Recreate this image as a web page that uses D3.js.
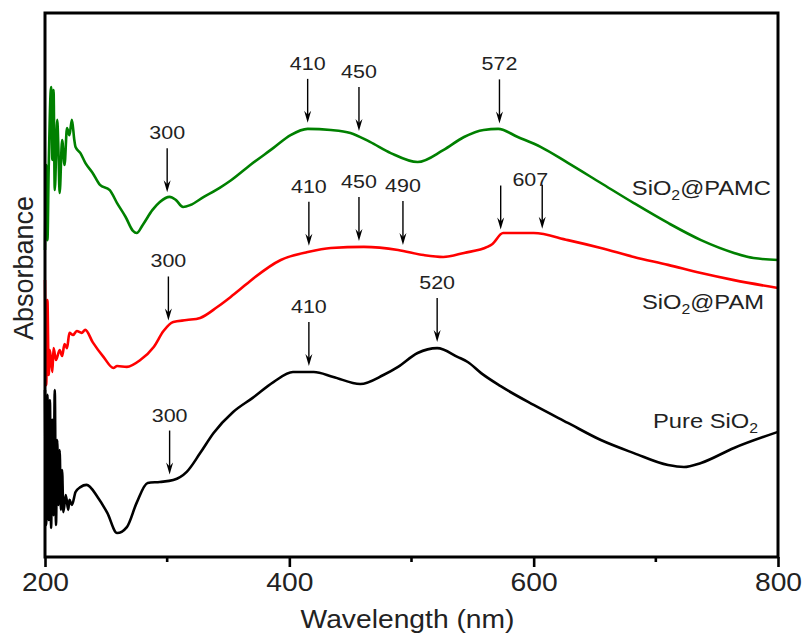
<!DOCTYPE html>
<html>
<head>
<meta charset="utf-8">
<script src="https://cdn.jsdelivr.net/npm/d3@7"></script>
<style>
  body { margin: 0; background: #fff; }
  text { font-family: Arial, "Liberation Sans", sans-serif; }
</style>
</head>
<body>
<div id="chart"></div>
<script>
(function() {

    // Chart size
    var width = 802;
    var height = 639;
    var margin = { top: 13, right: 24, bottom: 82, left: 45 };

    // Pure SiO2 (black) : wavelength (nm), absorbance (a.u.)
    var pureWl = [200, 201, 202, 203, 204, 205, 206, 207, 208, 209, 210, 211, 212, 213, 214, 215,
        217, 219, 220, 222, 225, 229, 234, 243, 251, 259, 267, 275, 284, 294, 305, 316, 327, 338,
        354, 370, 387, 403, 420, 436, 458, 477, 489, 505, 521, 538, 546, 557, 573, 600, 628,
        655, 682, 710, 723, 737, 764, 800];
    var pureAbs = [0.614, 0.118, 0.596, 0.136, 0.577, 0.107, 0.504, 0.154, 0.614, 0.118, 0.430,
        0.191, 0.393, 0.173, 0.320, 0.165, 0.228, 0.173, 0.210, 0.191, 0.239, 0.257, 0.265, 0.221,
        0.162, 0.088, 0.110, 0.199, 0.272, 0.276, 0.283, 0.313, 0.382, 0.456, 0.533, 0.585, 0.643,
        0.680, 0.680, 0.662, 0.636, 0.669, 0.699, 0.750, 0.768, 0.735, 0.717, 0.676, 0.628,
        0.559, 0.493, 0.430, 0.382, 0.338, 0.331, 0.346, 0.401, 0.460];

    // SiO2@PAM (red)
    var pamWl = [200, 201, 202, 203, 204, 206, 207, 209, 212, 214, 216, 218, 220, 223, 226, 230,
        233, 239, 248, 256, 259, 267, 278, 289, 297, 305, 316, 327, 341, 352, 360, 368, 393, 415,
        434, 461, 489, 510, 526, 543, 562, 566, 575, 600, 628, 655, 682, 710, 737, 764, 800];
    var pamAbs = [1.018, 0.632, 0.945, 0.669, 0.761, 0.680, 0.768, 0.724, 0.761, 0.739, 0.783,
        0.768, 0.824, 0.816, 0.831, 0.824, 0.835, 0.790, 0.735, 0.695, 0.702, 0.699, 0.724, 0.772,
        0.831, 0.864, 0.871, 0.879, 0.919, 0.956, 0.985, 1.015, 1.092, 1.121, 1.136, 1.140, 1.129,
        1.110, 1.103, 1.118, 1.140, 1.150, 1.191, 1.191, 1.165, 1.136, 1.103, 1.074, 1.044, 1.018,
        0.989];

    // SiO2@PAMC (green)
    var pamcWl = [200, 201, 202, 203, 205, 206, 207, 208, 210, 211, 212, 214, 216, 218, 220, 222,
        224, 225, 229, 233, 239, 245, 253, 259, 266, 272, 275, 280, 288, 294, 302, 307, 313, 319,
        330, 343, 352, 368, 387, 401, 415, 434, 450, 466, 483, 505, 526, 543, 559, 571, 587, 606,
        628, 655, 682, 710, 737, 764, 780, 800];
    var pamcAbs = [1.129, 1.441, 1.165, 1.423, 1.728, 1.460, 1.717, 1.349, 1.607, 1.496, 1.338,
        1.533, 1.441, 1.577, 1.551, 1.607, 1.533, 1.507, 1.485, 1.449, 1.412, 1.368, 1.349, 1.301,
        1.250, 1.199, 1.191, 1.221, 1.276, 1.305, 1.324, 1.313, 1.287, 1.294, 1.324, 1.357, 1.384,
        1.441, 1.504, 1.551, 1.574, 1.570, 1.559, 1.526, 1.485, 1.452, 1.496, 1.544, 1.570, 1.574,
        1.544, 1.507, 1.449, 1.375, 1.301, 1.228, 1.165, 1.118, 1.099, 1.092];

    var seriesNames = ["SiO2@PAMC", "SiO2@PAM", "Pure SiO2"];
    var seriesColors = ["#008000", "#ff0000", "#000000"];

    // Peak markers: where each arrow sits (nm) and its label
    var pamcArrowWl = [300, 415, 457, 572];
    var pamcArrowText = ["300", "410", "450", "572"];
    var pamArrowWl = [301, 416, 457, 493, 573, 607];
    var pamArrowText = ["300", "410", "450", "490", "", "607"];
    var pureArrowWl = [302, 416, 521];
    var pureArrowText = ["300", "410", "520"];

    var xTicks = [200, 400, 600, 800];
    var xMinorTicks = [300, 500, 700];

    var series = [
        { name: seriesNames[0], color: seriesColors[0], wl: pamcWl, abs: pamcAbs, arrows: pamcArrowWl, texts: pamcArrowText },
        { name: seriesNames[1], color: seriesColors[1], wl: pamWl, abs: pamAbs, arrows: pamArrowWl, texts: pamArrowText },
        { name: seriesNames[2], color: seriesColors[2], wl: pureWl, abs: pureAbs, arrows: pureArrowWl, texts: pureArrowText }
    ];

    var svg = d3.select("#chart")
        .append("svg")
        .attr("width", width)
        .attr("height", height);

    var x = d3.scaleLinear()
        .domain([200, 800])
        .range([margin.left, width - margin.right]);

    var y = d3.scaleLinear()
        .domain([0, 2])
        .range([height - margin.bottom, margin.top]);

    var line = d3.line()
        .curve(d3.curveMonotoneX)
        .x(function(d) { return x(d[0]); })
        .y(function(d) { return y(d[1]); });

    // text is slightly wide in the original figure
    var sx = 1.13;
    function stretchedText(g, px, py, anchor) {
        return g.append("text")
            .attr("transform", "translate(" + px + "," + py + ") scale(" + sx + ",1)")
            .attr("text-anchor", anchor || "middle");
    }

    // curves
    series.forEach(function(s) {
        var pts = s.wl.map(function(w, i) { return [w, s.abs[i]]; });
        svg.append("path")
            .datum(pts)
            .attr("fill", "none")
            .attr("stroke", s.color)
            .attr("stroke-width", 2.6)
            .attr("stroke-linejoin", "round")
            .attr("d", line);
    });

    // arrows
    var arrowLen = 44;
    series.forEach(function(s) {
        var g = svg.append("g");
        s.arrows.forEach(function(w, i) {
            var cy = y(interp(s.wl, s.abs, w));
            var tip = cy - 6;
            var top = tip - arrowLen;
            var ax = x(w);
            g.append("line")
                .attr("x1", ax).attr("x2", ax)
                .attr("y1", top).attr("y2", tip - 6)
                .attr("stroke", "#000")
                .attr("stroke-width", 1.4);
            g.append("path")
                .attr("d", "M" + (ax - 3.5) + "," + (tip - 12) + " L" + ax + "," + (tip - 8) +
                    " L" + (ax + 3.5) + "," + (tip - 12) + " L" + ax + "," + tip + "Z")
                .attr("fill", "#000");
            if (s.texts[i]) {
                var t;
                if (s.texts[i] === "607") {
                    t = stretchedText(g, ax + 6, top + 1, "end");
                } else {
                    t = stretchedText(g, ax, top - 9, "middle");
                }
                t.attr("font-size", 19).attr("fill", "#222").text(s.texts[i]);
            }
        });
    });

    function interp(xs, ys, v) {
        for (var i = 1; i < xs.length; i++) {
            if (xs[i] >= v) {
                var f = (v - xs[i - 1]) / (xs[i] - xs[i - 1]);
                return ys[i - 1] + f * (ys[i] - ys[i - 1]);
            }
        }
        return ys[ys.length - 1];
    }

    // series labels (SiO2 with subscript 2)
    var labelPos = [[x(800) - 7, y(1.331)], [x(800) - 14, y(0.912)], [x(800) - 20, y(0.474)]];
    series.forEach(function(s, i) {
        var t = stretchedText(svg, labelPos[i][0], labelPos[i][1], "end")
            .attr("font-size", 21)
            .attr("fill", "#222");
        var parts = s.name.split("SiO2");
        t.append("tspan").text(parts[0] + "SiO");
        t.append("tspan").attr("font-size", 14).attr("dy", 5).text("2");
        if (parts[1]) t.append("tspan").attr("dy", -5).text(parts[1]);
    });

    // axes
    var xAxis = svg.append("g")
        .attr("transform", "translate(0," + y(0) + ")")
        .call(d3.axisBottom(x).tickValues(xTicks).tickSize(10).tickFormat(d3.format("d")));
    xAxis.select(".domain").remove();
    xAxis.selectAll(".tick line").attr("stroke-width", 2.6);
    xAxis.selectAll(".tick text")
        .attr("font-size", 25)
        .attr("fill", "#222")
        .attr("font-family", "Arial, 'Liberation Sans', sans-serif")
        .attr("y", 16)
        .attr("transform", "scale(" + sx + ",1)")
        .attr("x", 0);

    svg.append("g")
        .selectAll("line")
        .data(xMinorTicks)
        .enter().append("line")
        .attr("x1", function(d) { return x(d); })
        .attr("x2", function(d) { return x(d); })
        .attr("y1", y(0))
        .attr("y2", y(0) + 5)
        .attr("stroke", "#000")
        .attr("stroke-width", 2.6);

    // frame
    svg.append("rect")
        .attr("x", x(200))
        .attr("y", y(2))
        .attr("width", x(800) - x(200))
        .attr("height", y(0) - y(2))
        .attr("fill", "none")
        .attr("stroke", "#000")
        .attr("stroke-width", 3);

    // axis titles
    stretchedText(svg, (x(200) + x(800)) / 2 - 4, 628, "middle")
        .attr("font-size", 25)
        .attr("fill", "#222")
        .text("Wavelength (nm)");

    svg.append("text")
        .attr("transform", "translate(33," + 268 + ") rotate(-90)")
        .attr("text-anchor", "middle")
        .attr("font-size", 27)
        .attr("fill", "#222")
        .text("Absorbance");

})();
</script>
</body>
</html>
